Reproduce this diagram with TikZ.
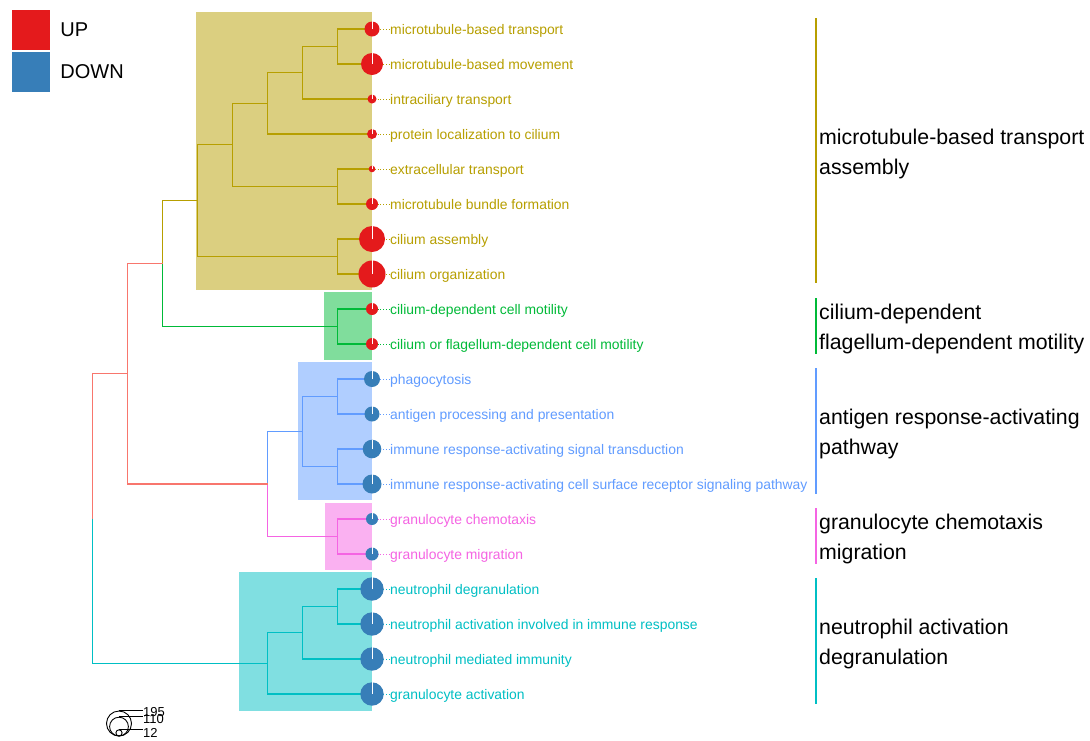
\documentclass[tikz,border=0pt]{standalone}
\usepackage{fontspec}
\setmainfont{Liberation Sans}
\usetikzlibrary{positioning,calc}

\definecolor{upred}{HTML}{E41A1C}
\definecolor{downblue}{HTML}{377EB8}
\definecolor{cgold}{HTML}{B79F00}
\definecolor{cgreen}{HTML}{00BA38}
\definecolor{cblue}{HTML}{619CFF}
\definecolor{cpink}{HTML}{F564E3}
\definecolor{ccyan}{HTML}{00BFC4}
\definecolor{croot}{HTML}{F8766D}

\tikzset{
  branch/.style={line width=1.1pt},
  pie/.style={circle, inner sep=0pt, fill=#1},
  sliver/.style={white, line width=0.9pt},
  dotlink/.style={dotted, line width=0.8pt},
  leaflab/.style={anchor=base west, inner sep=0pt, font=\fontsize{13.9}{16}\selectfont},
  grouplab/.style={anchor=west, align=left, inner sep=0pt, font=\fontsize{21.3}{30}\selectfont},
  groupbar/.style={line width=1.1pt},
  keybox/.style={minimum width=38pt, minimum height=40pt, inner sep=0pt},
  keylab/.style={anchor=west, inner sep=0pt, font=\fontsize{20}{24}\selectfont},
  sizecirc/.style={draw, circle, inner sep=0pt, line width=0.9pt},
  sizelab/.style={anchor=west, inner sep=0pt, font=\fontsize{13}{14}\selectfont},
}

\begin{document}
\begin{tikzpicture}[x=1pt,y=-1pt]
\fill[white] (0,0) rectangle (1090,740);
\useasboundingbox (0,0) rectangle (1090,740);

% cluster boxes
\fill[cgold!50] (196,12) rectangle (372,290);
\fill[cgreen!50] (324,292) rectangle (372,360);
\fill[cblue!50] (298,362) rectangle (372,500);
\fill[cpink!50] (325,503) rectangle (372,570);
\fill[ccyan!50] (239,572) rectangle (372,711);

% leaves
\coordinate (l1) at (372,29);
\coordinate (l2) at (372,64);
\coordinate (l3) at (372,99);
\coordinate (l4) at (372,134);
\coordinate (l5) at (372,169);
\coordinate (l6) at (372,204);
\coordinate (l7) at (372,239);
\coordinate (l8) at (372,274);
\coordinate (l9) at (372,309);
\coordinate (l10) at (372,344);
\coordinate (l11) at (372,379);
\coordinate (l12) at (372,414);
\coordinate (l13) at (372,449);
\coordinate (l14) at (372,484);
\coordinate (l15) at (372,519);
\coordinate (l16) at (372,554);
\coordinate (l17) at (372,589);
\coordinate (l18) at (372,624);
\coordinate (l19) at (372,659);
\coordinate (l20) at (372,694);

% inner nodes
\coordinate (g12) at (337.5,46.5);
\coordinate (g123) at (302.5,72.75);
\coordinate (g1234) at (267.5,103.4);
\coordinate (g56) at (337.5,186.5);
\coordinate (g1to6) at (232.5,144.9);
\coordinate (g78) at (337.5,256.5);
\coordinate (gold) at (197.5,200.7);
\coordinate (gr) at (337.5,326.5);
\coordinate (cil) at (162.5,263.6);
\coordinate (b12) at (337.5,396.5);
\coordinate (b34) at (337.5,466.5);
\coordinate (blue) at (302.5,431.5);
\coordinate (pk) at (337.5,536.5);
\coordinate (bp) at (267.5,484);
\coordinate (up) at (127.5,373.8);
\coordinate (c12) at (337.5,606.5);
\coordinate (c123) at (302.5,632.75);
\coordinate (cyan) at (267.5,663.4);
\coordinate (root) at (92.5,518.6);

% tree
\begin{scope}[branch, cgold]
\draw (l1) -| (g12) |- (l2);
\draw (g12) -| (g123) |- (l3);
\draw (g123) -| (g1234) |- (l4);
\draw (l5) -| (g56) |- (l6);
\draw (g1234) -| (g1to6) |- (g56);
\draw (l7) -| (g78) |- (l8);
\draw (g1to6) -| (gold) |- (g78);
\draw (gold) -| (cil);
\end{scope}
\draw[branch, cgreen] (l9) -| (gr) |- (l10);
\draw[branch, cgreen] (cil) |- (gr);
\begin{scope}[branch, cblue]
\draw (l11) -| (b12) |- (l12);
\draw (l13) -| (b34) |- (l14);
\draw (b12) -| (blue) |- (b34);
\draw (blue) -| (bp);
\end{scope}
\draw[branch, cpink] (l15) -| (pk) |- (l16);
\draw[branch, cpink] (bp) |- (pk);
\draw[branch, croot] (cil) -| (up) |- (bp);
\draw[branch, croot] (up) -| (root);
\begin{scope}[branch, ccyan]
\draw (l17) -| (c12) |- (l18);
\draw (c12) -| (c123) |- (l19);
\draw (c123) -| (cyan) |- (l20);
\draw (root) |- (cyan);
\end{scope}

% term labels
\node[leaflab, text=cgold] (t1) at (390,34) {microtubule-based transport};
\node[leaflab, text=cgold] (t2) at (390,69) {microtubule-based movement};
\node[leaflab, text=cgold] (t3) at (390,104) {intraciliary transport};
\node[leaflab, text=cgold] (t4) at (390,139) {protein localization to cilium};
\node[leaflab, text=cgold] (t5) at (390,174) {extracellular transport};
\node[leaflab, text=cgold] (t6) at (390,209) {microtubule bundle formation};
\node[leaflab, text=cgold] (t7) at (390,244) {cilium assembly};
\node[leaflab, text=cgold] (t8) at (390,279) {cilium organization};
\node[leaflab, text=cgreen] (t9) at (390,314) {cilium-dependent cell motility};
\node[leaflab, text=cgreen] (t10) at (390,349) {cilium or flagellum-dependent cell motility};
\node[leaflab, text=cblue] (t11) at (390,384) {phagocytosis};
\node[leaflab, text=cblue] (t12) at (390,419) {antigen processing and presentation};
\node[leaflab, text=cblue] (t13) at (390,454) {immune response-activating signal transduction};
\node[leaflab, text=cblue] (t14) at (390,489) {immune response-activating cell surface receptor signaling pathway};
\node[leaflab, text=cpink] (t15) at (390,524) {granulocyte chemotaxis};
\node[leaflab, text=cpink] (t16) at (390,559) {granulocyte migration};
\node[leaflab, text=ccyan] (t17) at (390,594) {neutrophil degranulation};
\node[leaflab, text=ccyan] (t18) at (390,629) {neutrophil activation involved in immune response};
\node[leaflab, text=ccyan] (t19) at (390,664) {neutrophil mediated immunity};
\node[leaflab, text=ccyan] (t20) at (390,699) {granulocyte activation};

% dotted links
\draw[dotlink, cgold] (l1) -- (l1 -| t1.west);
\draw[dotlink, cgold] (l2) -- (l2 -| t2.west);
\draw[dotlink, cgold] (l3) -- (l3 -| t3.west);
\draw[dotlink, cgold] (l4) -- (l4 -| t4.west);
\draw[dotlink, cgold] (l5) -- (l5 -| t5.west);
\draw[dotlink, cgold] (l6) -- (l6 -| t6.west);
\draw[dotlink, cgold] (l7) -- (l7 -| t7.west);
\draw[dotlink, cgold] (l8) -- (l8 -| t8.west);
\draw[dotlink, cgreen] (l9) -- (l9 -| t9.west);
\draw[dotlink, cgreen] (l10) -- (l10 -| t10.west);
\draw[dotlink, cblue] (l11) -- (l11 -| t11.west);
\draw[dotlink, cblue] (l12) -- (l12 -| t12.west);
\draw[dotlink, cblue] (l13) -- (l13 -| t13.west);
\draw[dotlink, cblue] (l14) -- (l14 -| t14.west);
\draw[dotlink, cpink] (l15) -- (l15 -| t15.west);
\draw[dotlink, cpink] (l16) -- (l16 -| t16.west);
\draw[dotlink, ccyan] (l17) -- (l17 -| t17.west);
\draw[dotlink, ccyan] (l18) -- (l18 -| t18.west);
\draw[dotlink, ccyan] (l19) -- (l19 -| t19.west);
\draw[dotlink, ccyan] (l20) -- (l20 -| t20.west);

% pies
\node[pie=upred, minimum size=15pt] (p1) at (l1) {};
\node[pie=upred, minimum size=22pt] (p2) at (l2) {};
\node[pie=upred, minimum size=9pt] (p3) at (l3) {};
\node[pie=upred, minimum size=10pt] (p4) at (l4) {};
\node[pie=upred, minimum size=6.6pt] (p5) at (l5) {};
\node[pie=upred, minimum size=12pt] (p6) at (l6) {};
\node[pie=upred, minimum size=26pt] (p7) at (l7) {};
\node[pie=upred, minimum size=27pt] (p8) at (l8) {};
\node[pie=upred, minimum size=12pt] (p9) at (l9) {};
\node[pie=upred, minimum size=12pt] (p10) at (l10) {};
\node[pie=downblue, minimum size=16pt] (p11) at (l11) {};
\node[pie=downblue, minimum size=15pt] (p12) at (l12) {};
\node[pie=downblue, minimum size=18.6pt] (p13) at (l13) {};
\node[pie=downblue, minimum size=19pt] (p14) at (l14) {};
\node[pie=downblue, minimum size=12pt] (p15) at (l15) {};
\node[pie=downblue, minimum size=13pt] (p16) at (l16) {};
\node[pie=downblue, minimum size=23.4pt] (p17) at (l17) {};
\node[pie=downblue, minimum size=23.4pt] (p18) at (l18) {};
\node[pie=downblue, minimum size=23.4pt] (p19) at (l19) {};
\node[pie=downblue, minimum size=23.4pt] (p20) at (l20) {};
\draw[sliver] (p1.center) -- (p1.north);
\draw[sliver] (p2.center) -- (p2.north);
\draw[sliver] (p3.center) -- (p3.north);
\draw[sliver] (p4.center) -- (p4.north);
\draw[sliver] (p5.center) -- (p5.north);
\draw[sliver] (p6.center) -- (p6.north);
\draw[sliver] (p7.center) -- (p7.north);
\draw[sliver] (p8.center) -- (p8.north);
\draw[sliver] (p9.center) -- (p9.north);
\draw[sliver] (p10.center) -- (p10.north);
\draw[sliver] (p11.center) -- (p11.north);
\draw[sliver] (p12.center) -- (p12.north);
\draw[sliver] (p13.center) -- (p13.north);
\draw[sliver] (p14.center) -- (p14.north);
\draw[sliver] (p15.center) -- (p15.north);
\draw[sliver] (p16.center) -- (p16.north);
\draw[sliver] (p17.center) -- (p17.north);
\draw[sliver] (p18.center) -- (p18.north);
\draw[sliver] (p19.center) -- (p19.north);
\draw[sliver] (p20.center) -- (p20.north);

% group bars and labels
\draw[groupbar, cgold] (816,18) -- (816,283);
\draw[groupbar, cgreen] (816,298) -- (816,354);
\draw[groupbar, cblue] (816,368) -- (816,494);
\draw[groupbar, cpink] (816,508) -- (816,564);
\draw[groupbar, ccyan] (816,578) -- (816,704);
\node[grouplab] (gl1) at (819,154) {microtubule-based transport\\assembly};
\node[grouplab] (gl2) at (819,329) {cilium-dependent\\flagellum-dependent motility};
\node[grouplab] (gl3) at (819,434) {antigen response-activating\\pathway};
\node[grouplab] (gl4) at (819,539) {granulocyte chemotaxis\\migration};
\node[grouplab] (gl5) at (819,644) {neutrophil activation\\degranulation};

% colour key
\node[keybox, fill=upred] (kup) at (31,30) {};
\node[keybox, fill=downblue] (kdown) at (31,72) {};
\node[keylab, right=10pt of kup] (lup) {UP};
\node[keylab, right=10pt of kdown] (ldown) {DOWN};

% size key
\node[sizecirc, minimum size=25pt] (s195) at (119,723.5) {};
\node[sizecirc, minimum size=18.8pt] (s110) at (119,726.6) {};
\node[sizecirc, minimum size=6.2pt] (s12) at (119,732.9) {};
\node[sizelab] (n195) at (143,712) {195};
\node[sizelab] (n110) at (143,719) {110};
\node[sizelab] (n12) at (143,733) {12};
\draw[line width=0.9pt] (s195.north) -- (s195.north -| n195.west);
\draw[line width=0.9pt] (s110.north) -- (s110.north -| n110.west);
\draw[line width=0.9pt] (s12.north) -- (s12.north -| n12.west);
\end{tikzpicture}
\end{document}
